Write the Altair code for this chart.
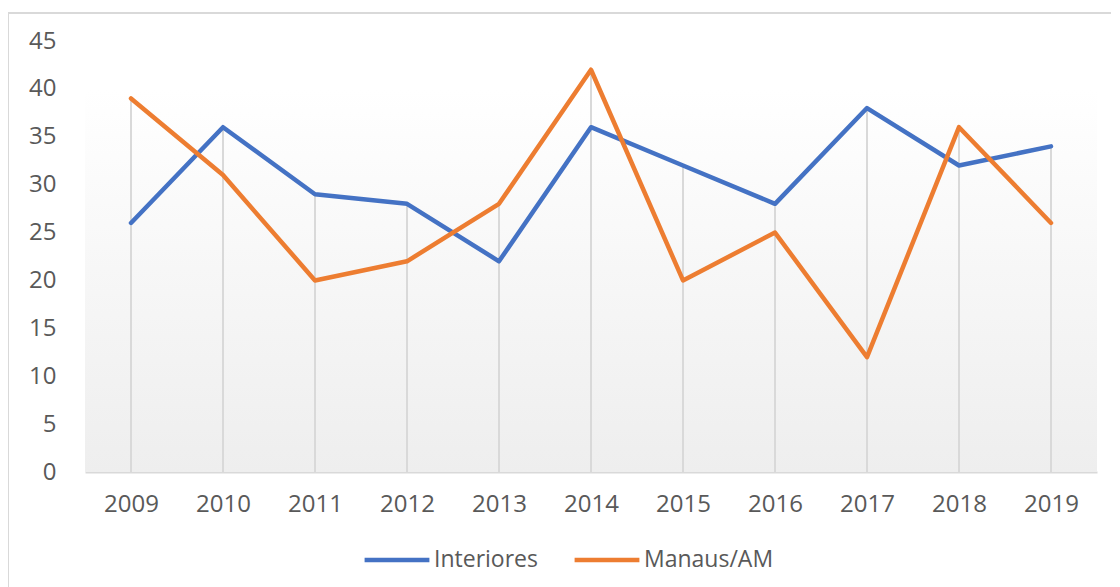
import altair as alt
import pandas as pd

years = ["2009", "2010", "2011", "2012", "2013", "2014", "2015", "2016", "2017", "2018", "2019"]
interiores = [26, 36, 29, 28, 22, 36, 32, 28, 38, 32, 34]
manaus = [39, 31, 20, 22, 28, 42, 20, 25, 12, 36, 26]
series_names = ["Interiores", "Manaus/AM"]
colors = ["#4472C4", "#ED7D31"]

rows = []
for y, a, b in zip(years, interiores, manaus):
    rows.append({"ano": y, "serie": series_names[0], "valor": a})
    rows.append({"ano": y, "serie": series_names[1], "valor": b})
df = pd.DataFrame(rows)
drop = pd.DataFrame({"ano": years, "top": [max(a, b) for a, b in zip(interiores, manaus)], "zero": [0] * len(years)})

FONT = "Open Sans"
W, H = 1012, 431

xscale = alt.Scale(type="point", padding=0.5)
yscale = alt.Scale(domain=[0, 45], nice=False)

bg = alt.Chart(pd.DataFrame({"a": [40], "b": [0]})).mark_rect(
    color=alt.Gradient(gradient="linear", x1=0, x2=0, y1=0, y2=1,
                       stops=[alt.GradientStop(color="#ffffff", offset=0),
                              alt.GradientStop(color="#eeeeee", offset=1)])
).encode(
    x=alt.value(0), x2=alt.value(W),
    y=alt.Y("a:Q", scale=yscale), y2="b:Q"
)

frame = alt.Chart(pd.DataFrame({"a": [0]})).mark_rect(
    fill=None, stroke="#d9d9d9", strokeWidth=2, clip=False
).encode(
    x=alt.value(-77), x2=alt.value(W + 40),
    y=alt.value(-28), y2=alt.value(H + 150)
)

drops = alt.Chart(drop).mark_rule(color="#d9d9d9", strokeWidth=2).encode(
    x=alt.X("ano:O", scale=xscale, sort=years),
    y=alt.Y("top:Q", scale=yscale),
    y2="zero:Q"
)

lines = alt.Chart(df).mark_line(strokeWidth=4.5, strokeCap="round", strokeJoin="round").encode(
    x=alt.X("ano:O", scale=xscale, sort=years,
            axis=alt.Axis(title=None, labelAngle=0, labelAlign="center", ticks=False, domain=True,
                          domainColor="#d9d9d9", domainWidth=2, labelFontSize=24, labelColor="#595959",
                          labelFont=FONT, labelPadding=32, grid=False)),
    y=alt.Y("valor:Q", scale=yscale,
            axis=alt.Axis(title=None, values=list(range(0, 50, 5)), ticks=False, domain=False, grid=False,
                          labelFontSize=24, labelColor="#595959", labelFont=FONT, labelPadding=29)),
    color=alt.Color("serie:N", scale=alt.Scale(domain=series_names, range=colors),
                    legend=alt.Legend(title=None, orient="none", legendX=277, legendY=484,
                                      direction="horizontal", symbolType="stroke", symbolSize=4200,
                                      symbolStrokeWidth=4.5, labelFontSize=23, labelColor="#595959",
                                      labelFont=FONT, columnPadding=27, labelOffset=2))
)

chart = alt.layer(bg, frame, drops, lines).properties(
    width=W, height=H,
    padding={"left": 77, "top": 33, "right": 14, "bottom": 115},
    autosize=alt.AutoSizeParams(type="none"),
).configure_view(stroke=None)

chart.save("out.html", embed_options={"renderer": "svg", "actions": False})
